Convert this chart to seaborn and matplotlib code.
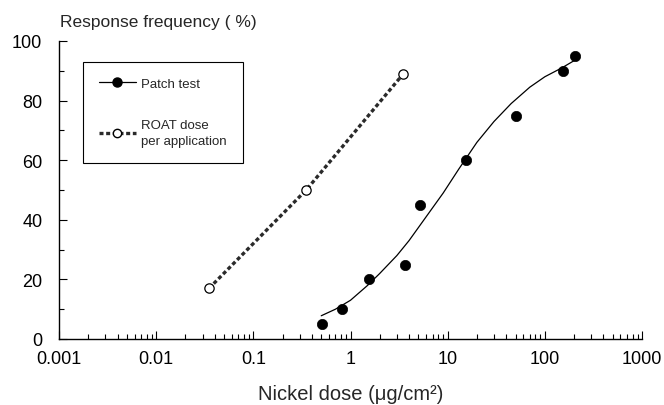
import matplotlib
matplotlib.use("Agg")
import matplotlib.pyplot as plt
import matplotlib.ticker as mticker
from matplotlib.lines import Line2D
import seaborn as sns
import pandas as pd

# ---- data ----
patch_dose = [0.515, 0.81, 1.55, 3.6, 5.15, 15.6, 51, 153, 205]
patch_freq = [5, 10, 20, 25, 45, 60, 75, 90, 95]

# fitted curve
curve_dose = [0.5, 0.7, 1.0, 1.5, 2.0, 3.0, 4.0, 6.0, 9.0, 13, 20, 30, 45, 70, 100, 150, 200]
curve_freq = [7.8, 10, 13, 18, 22, 28, 33, 41, 49, 57, 66, 73, 79, 84.5, 88, 91, 93.4]

roat_dose = [0.035, 0.35, 3.5]
roat_freq = [17, 50, 89]

xticks = [0.001, 0.01, 0.1, 1, 10, 100, 1000]
xtick_labels = ["0.001", "0.01", "0.1", "1", "10", "100", "1000"]
yticks = [0, 20, 40, 60, 80, 100]
yminor = [10, 30, 50, 70, 90]

sns.set_style("ticks")
plt.rcParams["font.family"] = ["Liberation Sans", "DejaVu Sans"]

fig = plt.figure(figsize=(6.64, 4.06), dpi=100)
ax = fig.add_axes([59 / 664, 1 - 340 / 406, (642 - 59) / 664, (340 - 42) / 406])

df_patch = pd.DataFrame({"dose": patch_dose, "freq": patch_freq})
df_curve = pd.DataFrame({"dose": curve_dose, "freq": curve_freq})
df_roat = pd.DataFrame({"dose": roat_dose, "freq": roat_freq})

sns.lineplot(data=df_curve, x="dose", y="freq", ax=ax, color="black", lw=0.9,
             sort=False, estimator=None, legend=False)
sns.scatterplot(data=df_patch, x="dose", y="freq", ax=ax, color="black", s=55,
                edgecolor="black", linewidth=0.5, legend=False, zorder=4)
sns.lineplot(data=df_roat, x="dose", y="freq", ax=ax, color="#2a2a2a", lw=2.4,
             dashes=False, sort=False, estimator=None, legend=False)
ax.lines[-1].set_dashes((1.2, 0.8))
sns.scatterplot(data=df_roat, x="dose", y="freq", ax=ax, s=45, facecolor="white",
                edgecolor="black", linewidth=0.9, legend=False, zorder=4)

ax.set_xscale("log")
ax.set_xlim(0.001, 1000)
ax.set_ylim(0, 100)
ax.xaxis.set_major_locator(mticker.FixedLocator(xticks))
ax.xaxis.set_major_formatter(mticker.FixedFormatter(xtick_labels))
ax.xaxis.set_minor_locator(mticker.LogLocator(base=10, subs=range(2, 10), numticks=20))
ax.xaxis.set_minor_formatter(mticker.NullFormatter())
ax.set_yticks(yticks)
ax.set_yticks(yminor, minor=True)

ax.tick_params(axis="both", which="major", direction="in", length=6, width=0.8,
               labelsize=13, color="black", labelcolor="black")
ax.tick_params(axis="both", which="minor", direction="in", length=3.6, width=0.8,
               color="black")
ax.tick_params(axis="x", which="major", pad=8)
ax.tick_params(axis="y", which="major", pad=12)

for s in ["top", "right"]:
    ax.spines[s].set_visible(False)
for s in ["left", "bottom"]:
    ax.spines[s].set_linewidth(1.0)
    ax.spines[s].set_color("black")

ax.set_xlabel("Nickel dose (\u03bcg/cm\u00b2)", fontsize=14.5, labelpad=12)
ax.set_ylabel("")
fig.text(60 / 664, 1 - 22 / 406, "Response frequency ( %)", fontsize=12.5,
         ha="left", va="center")

# legend
h1 = Line2D([], [], color="black", lw=0.9, marker="o", ms=6.5, mfc="black", mec="black")
h2 = Line2D([], [], color="#2a2a2a", lw=2.4, dashes=(1.2, 0.8), marker="o", ms=6,
            mfc="white", mec="black")
leg = ax.legend([h1, h2], ["Patch test", "ROAT dose\nper application"],
                loc="upper left", bbox_to_anchor=(83 / 664, 1 - 63 / 406),
                bbox_transform=fig.transFigure, fontsize=9.5, frameon=True,
                fancybox=False, shadow=False, handlelength=2.8, handletextpad=0.4,
                borderpad=1.2, labelspacing=2.2, borderaxespad=0, numpoints=1)
for t in leg.get_texts():
    t.set_linespacing(1.45)
leg.get_frame().set_edgecolor("black")
leg.get_frame().set_linewidth(0.8)
leg.get_frame().set_alpha(1)

fig.savefig("out.png", dpi=100)
